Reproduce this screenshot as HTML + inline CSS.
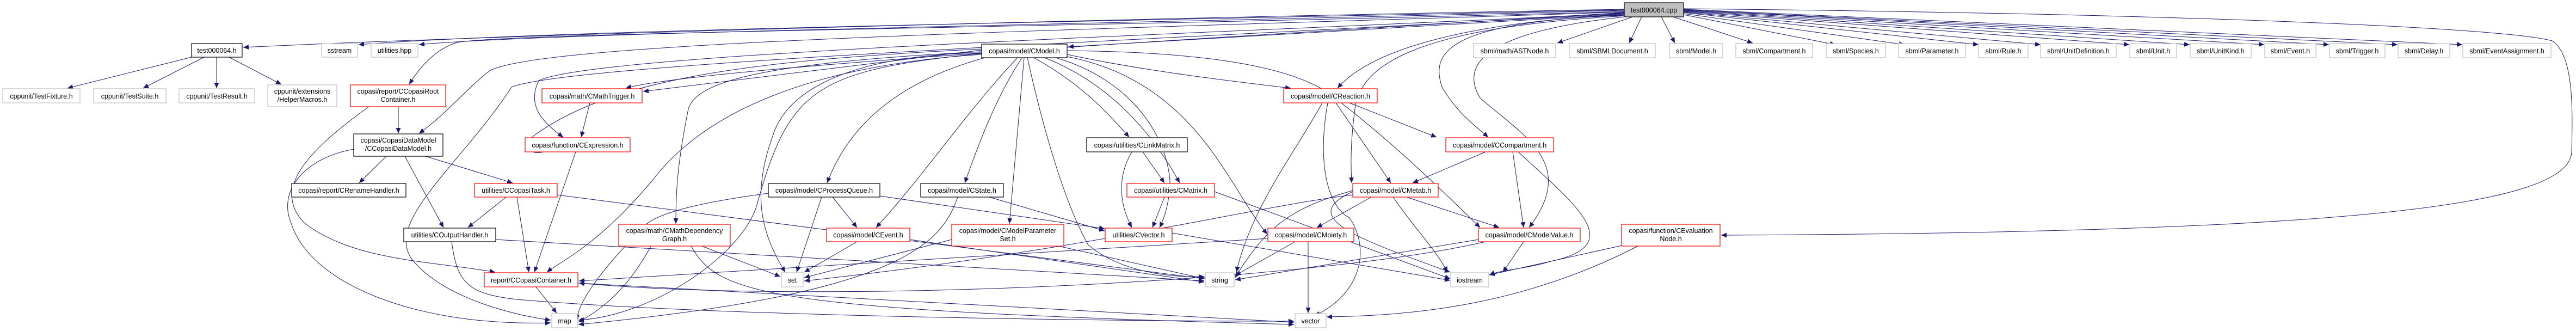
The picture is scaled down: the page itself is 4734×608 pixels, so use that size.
<!DOCTYPE html>
<html><head><meta charset="utf-8"><style>
html,body{margin:0;padding:0;background:#fff;}
svg{display:block;}
text{font-family:"Liberation Sans",sans-serif;font-size:12.5px;fill:#000;text-anchor:middle;}
.g{fill:#fff;stroke:#bfbfbf;stroke-width:1.2;}
.b{fill:#fff;stroke:#000;stroke-width:1.2;}
.r{fill:#fff;stroke:#ff0000;stroke-width:1.2;}
path.e{fill:none;stroke:#191970;stroke-width:1;}
</style></head><body>
<svg width="4734" height="608" viewBox="0 0 4734 608" xmlns="http://www.w3.org/2000/svg">
<defs><marker id="a" markerUnits="userSpaceOnUse" markerWidth="11" markerHeight="9" refX="10" refY="4.5" orient="auto"><path d="M0,0 L10,4.5 L0,9 z" fill="#191970"/></marker></defs>
<g marker-end="url(#a)">
<!-- from cpp -->
<path class="e" d="M2985,17 C2000,35 900,65 447,87"/>
<path class="e" d="M2985,18 C2000,40 1000,55 659,82"/>
<path class="e" d="M2985,19 C2000,45 1000,60 770,82"/>
<path class="e" d="M2985,21 C2000,50 920,60 840,78 C800,90 770,125 752,155"/>
<path class="e" d="M2985,22 C2000,55 1000,75 900,130 C860,160 820,210 770,245"/>
<path class="e" d="M2985,23 C2400,60 1300,120 1150,162"/>
<path class="e" d="M2985,24 C2300,60 1100,95 990,148 C970,190 990,220 1035,252"/>
<path class="e" d="M2985,25 C2200,70 1050,115 940,160 C850,300 700,410 760,480 C820,550 950,580 1012,588"/>
<path class="e" d="M2985,26 C2600,50 2200,70 1963,86"/>
<path class="e" d="M2990,27 C2700,40 2520,90 2458,162"/>
<path class="e" d="M2990,28 C2650,40 2630,100 2650,160 C2680,210 2710,230 2735,252"/>
<path class="e" d="M2990,29 C2600,50 2500,120 2490,200 C2482,260 2482,300 2484,336"/>
<path class="e" d="M2995,30 C2700,60 2690,130 2720,180 C2800,250 2900,300 2810,418"/>
<path class="e" d="M3000,31 L2862,79"/>
<path class="e" d="M3017,31 L2994,79"/>
<path class="e" d="M3053,31 L3078,79"/>
<path class="e" d="M3075,31 L3221,79"/>
<path class="e" d="M3094,27 L3373,82"/>
<path class="e" d="M3094,25 L3500,82"/>
<path class="e" d="M3094,23 L3636,82"/>
<path class="e" d="M3094,22 L3750,82"/>
<path class="e" d="M3094,21 L3913,82"/>
<path class="e" d="M3094,20 L4024,82"/>
<path class="e" d="M3094,19 L4161,82"/>
<path class="e" d="M3094,18 L4280,82"/>
<path class="e" d="M3094,18 L4406,82"/>
<path class="e" d="M3094,17 L4525,82"/>
<path class="e" d="M3094,16 C4000,25 4600,50 4690,75 C4730,100 4728,200 4726,280 C4720,380 4300,427 3163,432"/>
<!-- test000064.h -->
<path class="e" d="M352,105 L124,162"/>
<path class="e" d="M375,105 L263,162"/>
<path class="e" d="M398,105 L398,162"/>
<path class="e" d="M421,105 L517,155"/>
<!-- root container -->
<path class="e" d="M732,196 L732,245"/>
<path class="e" d="M678,196 C560,280 500,350 560,410 C650,480 800,480 910,500"/>
<!-- data model -->
<path class="e" d="M710,287 L660,336"/>
<path class="e" d="M782,287 L942,336"/>
<path class="e" d="M744,287 L815,418"/>
<path class="e" d="M650,274 C560,290 510,350 535,410 C570,520 760,600 1012,593"/>
<!-- CCopasiTask -->
<path class="e" d="M930,362 L860,418"/>
<path class="e" d="M950,362 L972,500"/>
<path class="e" d="M1024,358 L2213,512"/>
<!-- COutputHandler -->
<path class="e" d="M911,440 L2213,516"/>
<path class="e" d="M830,444 C840,520 860,540 950,550 C1300,580 2000,590 2378,590"/>
<!-- CCopasiContainer -->
<path class="e" d="M985,527 L1023,575"/>
<path class="e" d="M1062,520 L2378,592"/>
<!-- math trigger / expression -->
<path class="e" d="M1084,189 L1068,252"/>
<path class="e" d="M1058,279 L982,500"/>
<!-- CModel -->
<path class="e" d="M1804,90 C1400,110 1130,140 980,250 C950,280 1000,300 1034,251"/>
<path class="e" d="M1804,92 L1182,168"/>
<path class="e" d="M1804,95 C1400,115 1280,150 1265,200 C1245,300 1242,350 1242,411"/>
<path class="e" d="M1804,97 C1600,100 1450,150 1420,250 C1380,360 1400,430 1443,500"/>
<path class="e" d="M1810,106 C1650,150 1560,230 1520,336"/>
<path class="e" d="M1870,106 C1780,200 1700,320 1610,418"/>
<path class="e" d="M1878,106 C1830,180 1800,260 1773,336"/>
<path class="e" d="M1882,106 L1855,411"/>
<path class="e" d="M1888,106 C1920,250 1960,380 2000,450 C2060,500 2150,510 2213,508"/>
<path class="e" d="M1900,106 C1980,150 2030,200 2075,252"/>
<path class="e" d="M1920,106 C2030,150 2110,230 2168,336"/>
<path class="e" d="M1940,106 C2060,140 2140,230 2150,330 C2150,370 2140,400 2131,418"/>
<path class="e" d="M1961,100 C2100,130 2270,150 2372,162"/>
<path class="e" d="M1961,104 C2200,150 2260,350 2329,430"/>
<path class="e" d="M1961,93 C2150,95 2350,110 2440,170 C2520,230 2600,300 2720,418"/>
<path class="e" d="M1804,100 C1500,120 1300,200 1200,330 C1100,450 1030,480 1005,500"/>
<path class="e" d="M1804,98 C1500,130 1450,160 1390,380 C1360,470 1200,580 1063,588"/>
<!-- CProcessQueue -->
<path class="e" d="M1510,362 L1464,500"/>
<path class="e" d="M1530,362 L1575,418"/>
<path class="e" d="M1617,360 L2030,420"/>
<path class="e" d="M1412,355 C1300,370 1200,390 1180,420 C1100,500 1060,560 1061,588"/>
<!-- CState -->
<path class="e" d="M1818,362 L2030,424"/>
<path class="e" d="M1760,362 C1730,450 1650,540 1063,596"/>
<!-- CLinkMatrix -->
<path class="e" d="M2100,279 L2140,336"/>
<path class="e" d="M2080,279 C2050,330 2060,380 2080,418"/>
<!-- CMatrix / CVector -->
<path class="e" d="M2140,362 L2118,418"/>
<path class="e" d="M2232,352 L2665,512"/>
<path class="e" d="M2154,428 L2665,515"/>
<!-- CEvent / param set / mdg -->
<path class="e" d="M1575,444 L1478,500"/>
<path class="e" d="M1672,440 L2213,518"/>
<path class="e" d="M1749,440 L1478,510"/>
<path class="e" d="M1945,452 L2214,512"/>
<path class="e" d="M1290,452 L1434,508"/>
<path class="e" d="M1270,452 C1320,540 1400,570 2378,596"/>
<path class="e" d="M1200,445 C1150,540 1100,570 1063,592"/>
<!-- CReaction -->
<path class="e" d="M2480,189 L2640,252"/>
<path class="e" d="M2455,189 L2556,336"/>
<path class="e" d="M2440,189 C2420,300 2440,380 2480,400 C2520,460 2500,540 2416,580"/>
<path class="e" d="M2430,189 C2380,280 2300,380 2272,500"/>
<!-- CCompartment -->
<path class="e" d="M2730,279 L2596,336"/>
<path class="e" d="M2780,279 L2800,418"/>
<path class="e" d="M2790,279 C2900,380 2990,450 2850,480 C2800,495 2760,495 2737,505"/>
<!-- CMetab -->
<path class="e" d="M2520,362 L2420,418"/>
<path class="e" d="M2585,362 L2755,418"/>
<path class="e" d="M2560,362 C2600,420 2640,460 2660,500"/>
<path class="e" d="M2486,350 C2380,380 2330,410 2270,510"/>
<path class="e" d="M2486,358 C2300,380 2000,460 1478,516"/>
<path class="e" d="M2486,352 C2380,400 2500,440 2665,500"/>
<!-- CMoiety -->
<path class="e" d="M2404,444 L2404,575"/>
<path class="e" d="M2380,444 L2270,506"/>
<path class="e" d="M2330,438 L1064,516"/>
<!-- CModelValue -->
<path class="e" d="M2800,444 L2762,500"/>
<path class="e" d="M2717,440 L2270,514"/>
<path class="e" d="M2730,444 C2400,520 1500,560 1064,520"/>
<!-- CEvaluationNode -->
<path class="e" d="M2985,450 L2737,505"/>
<path class="e" d="M3010,452 C2800,560 2600,580 2438,582"/>
</g>
<!-- nodes -->
<rect class="g" x="2985" y="5" width="109" height="26" style="fill:#bfbfbf;stroke:#000"/><text x="3039.5" y="23">test000064.cpp</text>
<rect class="b" x="352" y="80" width="93" height="25"/><text x="398.5" y="97">test000064.h</text>
<rect class="g" x="591" y="80" width="66" height="25"/><text x="624" y="97">sstream</text>
<rect class="g" x="682" y="80" width="86" height="25"/><text x="725" y="97">utilities.hpp</text>
<rect class="g" x="5" y="163" width="142" height="26"/><text x="76" y="181">cppunit/TestFixture.h</text>
<rect class="g" x="172" y="163" width="133" height="26"/><text x="238.5" y="181">cppunit/TestSuite.h</text>
<rect class="g" x="329" y="163" width="139" height="26"/><text x="398.5" y="181">cppunit/TestResult.h</text>
<rect class="g" x="492" y="156" width="127" height="40"/><text x="555.5" y="172">cppunit/extensions</text><text x="555.5" y="187">/HelperMacros.h</text>
<rect class="r" x="644" y="156" width="175" height="40"/><text x="731.5" y="172">copasi/report/CCopasiRoot</text><text x="731.5" y="187">Container.h</text>
<rect class="b" x="650" y="246" width="164" height="41"/><text x="732" y="262">copasi/CopasiDataModel</text><text x="732" y="277">/CCopasiDataModel.h</text>
<rect class="b" x="536" y="337" width="210" height="25"/><text x="641" y="354">copasi/report/CRenameHandler.h</text>
<rect class="r" x="872" y="337" width="152" height="25"/><text x="948" y="354">utilities/CCopasiTask.h</text>
<rect class="b" x="742" y="419" width="169" height="25"/><text x="826.5" y="436">utilities/COutputHandler.h</text>
<rect class="r" x="890" y="501" width="172" height="26"/><text x="976" y="519">report/CCopasiContainer.h</text>
<rect class="g" x="1014" y="576" width="47" height="26"/><text x="1037.5" y="594">map</text>
<rect class="r" x="996" y="163" width="184" height="26"/><text x="1088" y="181">copasi/math/CMathTrigger.h</text>
<rect class="r" x="965" y="253" width="193" height="26"/><text x="1061.5" y="271">copasi/function/CExpression.h</text>
<rect class="b" x="1804" y="81" width="157" height="25"/><text x="1882.5" y="98">copasi/model/CModel.h</text>
<rect class="r" x="1137" y="412" width="205" height="40"/><text x="1239.5" y="428">copasi/math/CMathDependency</text><text x="1239.5" y="443">Graph.h</text>
<rect class="b" x="1412" y="337" width="205" height="25"/><text x="1514.5" y="354">copasi/model/CProcessQueue.h</text>
<rect class="b" x="1692" y="337" width="152" height="25"/><text x="1768" y="354">copasi/model/CState.h</text>
<rect class="b" x="1997" y="253" width="185" height="26"/><text x="2089.5" y="271">copasi/utilities/CLinkMatrix.h</text>
<rect class="r" x="2071" y="337" width="161" height="25"/><text x="2151.5" y="354">copasi/utilities/CMatrix.h</text>
<rect class="r" x="1519" y="419" width="153" height="25"/><text x="1595.5" y="436">copasi/model/CEvent.h</text>
<rect class="r" x="1749" y="412" width="206" height="40"/><text x="1852" y="428">copasi/model/CModelParameter</text><text x="1852" y="443">Set.h</text>
<rect class="r" x="2031" y="419" width="123" height="25"/><text x="2092.5" y="436">utilities/CVector.h</text>
<rect class="g" x="1436" y="501" width="40" height="26"/><text x="1456" y="519">set</text>
<rect class="g" x="2215" y="501" width="53" height="26"/><text x="2241.5" y="519">string</text>
<rect class="r" x="2359" y="163" width="172" height="26"/><text x="2445" y="181">copasi/model/CReaction.h</text>
<rect class="r" x="2330" y="419" width="158" height="25"/><text x="2409" y="436">copasi/model/CMoiety.h</text>
<rect class="g" x="2380" y="576" width="57" height="26"/><text x="2408.5" y="594">vector</text>
<rect class="g" x="2708" y="80" width="151" height="26"/><text x="2783.5" y="98">sbml/math/ASTNode.h</text>
<rect class="g" x="2884" y="80" width="158" height="26"/><text x="2963" y="98">sbml/SBMLDocument.h</text>
<rect class="g" x="3068" y="80" width="98" height="26"/><text x="3117" y="98">sbml/Model.h</text>
<rect class="g" x="3190" y="80" width="141" height="26"/><text x="3260.5" y="98">sbml/Compartment.h</text>
<rect class="g" x="3356" y="80" width="109" height="26"/><text x="3410.5" y="98">sbml/Species.h</text>
<rect class="g" x="3489" y="80" width="123" height="26"/><text x="3550.5" y="98">sbml/Parameter.h</text>
<rect class="g" x="3636" y="80" width="91" height="26"/><text x="3681.5" y="98">sbml/Rule.h</text>
<rect class="g" x="3750" y="80" width="139" height="26"/><text x="3819.5" y="98">sbml/UnitDefinition.h</text>
<rect class="g" x="3914" y="80" width="86" height="26"/><text x="3957" y="98">sbml/Unit.h</text>
<rect class="g" x="4025" y="80" width="112" height="26"/><text x="4081" y="98">sbml/UnitKind.h</text>
<rect class="g" x="4162" y="80" width="94" height="26"/><text x="4209" y="98">sbml/Event.h</text>
<rect class="g" x="4281" y="80" width="102" height="26"/><text x="4332" y="98">sbml/Trigger.h</text>
<rect class="g" x="4407" y="80" width="95" height="26"/><text x="4454.5" y="98">sbml/Delay.h</text>
<rect class="g" x="4526" y="80" width="162" height="26"/><text x="4607" y="98">sbml/EventAssignment.h</text>
<rect class="r" x="2657" y="253" width="198" height="26"/><text x="2756" y="271">copasi/model/CCompartment.h</text>
<rect class="r" x="2486" y="337" width="157" height="25"/><text x="2564.5" y="354">copasi/model/CMetab.h</text>
<rect class="r" x="2717" y="419" width="187" height="25"/><text x="2810.5" y="436">copasi/model/CModelValue.h</text>
<rect class="r" x="2980" y="412" width="181" height="40"/><text x="3070.5" y="428">copasi/function/CEvaluation</text><text x="3070.5" y="443">Node.h</text>
<rect class="g" x="2666" y="501" width="70" height="26"/><text x="2701" y="519">iostream</text>
</svg>
</body></html>
